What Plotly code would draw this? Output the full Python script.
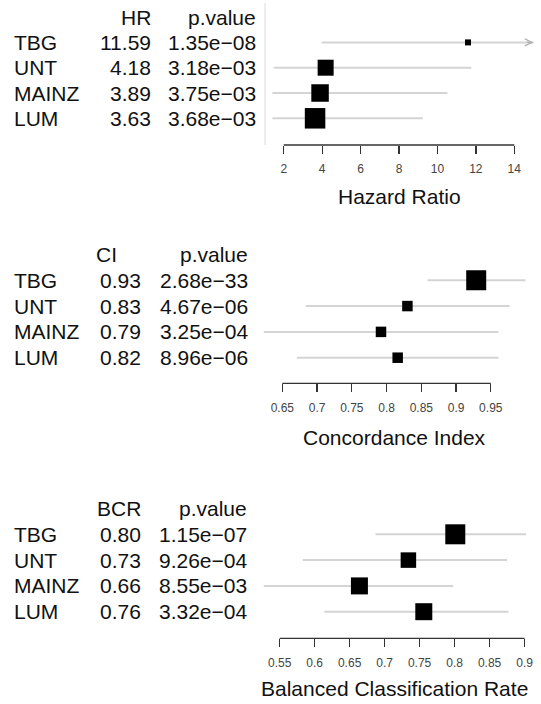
import plotly.graph_objects as go

# ---------------- data ----------------
studies = ["TBG", "UNT", "MAINZ", "LUM"]

hr_est = [11.59, 4.18, 3.89, 3.63]
hr_lower = [3.97, 1.48, 1.41, 1.41]
hr_upper = [27.0, 11.76, 10.52, 9.24]
hr_pval = ["1.35e−08", "3.18e−03", "3.75e−03", "3.68e−03"]
hr_ticks = [2, 4, 6, 8, 10, 12, 14]
hr_ticktext = ["2", "4", "6", "8", "10", "12", "14"]

ci_est = [0.929, 0.830, 0.792, 0.816]
ci_lower = [0.859, 0.684, 0.623, 0.671]
ci_upper = [1.000, 0.977, 0.961, 0.961]
ci_pval = ["2.68e−33", "4.67e−06", "3.25e−04", "8.96e−06"]
ci_ticks = [0.65, 0.70, 0.75, 0.80, 0.85, 0.90, 0.95]
ci_ticktext = ["0.65", "0.7", "0.75", "0.8", "0.85", "0.9", "0.95"]

bcr_est = [0.801, 0.734, 0.664, 0.756]
bcr_lower = [0.687, 0.583, 0.527, 0.614]
bcr_upper = [0.902, 0.875, 0.798, 0.877]
bcr_pval = ["1.15e−07", "9.26e−04", "8.55e−03", "3.32e−04"]
bcr_ticks = [0.55, 0.60, 0.65, 0.70, 0.75, 0.80, 0.85, 0.90]
bcr_ticktext = ["0.55", "0.6", "0.65", "0.7", "0.75", "0.8", "0.85", "0.9"]

# ---------------- style / layout ----------------
W, H = 541, 704
FONT = "Liberation Sans, Arial, Helvetica, sans-serif"
TXT = 21
TICKF = 12
GRAY = "#d4d4d4"
AXC = "#333333"

rows = [4, 3, 2, 1]      # TBG top ... LUM bottom
header_row = 5

panels = [
    dict(stat="HR", est=hr_est, lo=hr_lower, hi=hr_upper, pv=hr_pval, fmt="{:.2f}",
         ticks=hr_ticks, ticktext=hr_ticktext, title="Hazard Ratio",
         xpx=(268, 540.5), xrange=[1, 15], ypx=(3, 145), yrange=[-0.055, 5.557],
         c1=152.7, c2=259.3, h1=("right", 152.7), sizes=[6, 16, 17.5, 20.5],
         ref=1, title_px=197),
    dict(stat="CI", est=ci_est, lo=ci_lower, hi=ci_upper, pv=ci_pval, fmt="{:.2f}",
         ticks=ci_ticks, ticktext=ci_ticktext, title="Concordance Index",
         xpx=(267, 533), xrange=[0.623, 1.0008], ypx=(240, 383.3), yrange=[0.008, 5.56],
         c1=143.2, c2=251.2, h1=("left", 97), sizes=[20, 10.5, 10.5, 10.5],
         ref=None, title_px=437),
    dict(stat="BCR", est=bcr_est, lo=bcr_lower, hi=bcr_upper, pv=bcr_pval, fmt="{:.2f}",
         ticks=bcr_ticks, ticktext=bcr_ticktext, title="Balanced Classification Rate",
         xpx=(267, 533), xrange=[0.527, 0.9022], ypx=(490, 638.3), yrange=[-0.031, 5.717],
         c1=143.2, c2=250.2, h1=("right", 143.2), sizes=[20, 15.5, 17, 17],
         ref=None, title_px=688),
]

fig = go.Figure()
layout = dict(width=W, height=H, margin=dict(l=0, r=0, t=0, b=0),
              paper_bgcolor="white", plot_bgcolor="white", showlegend=False,
              font=dict(family=FONT, color="#111111"))
annotations = []
shapes = []


def px_x(p):
    return p / W


def px_y(p):
    return 1 - p / H


for i, pnl in enumerate(panels):
    k = "" if i == 0 else str(i + 1)
    xa, ya = "x" + k, "y" + k
    xkey, ykey = "xaxis" + k, "yaxis" + k
    layout[xkey] = dict(domain=[px_x(pnl["xpx"][0]), px_x(pnl["xpx"][1])],
                        range=pnl["xrange"], anchor=ya, showgrid=False, zeroline=False,
                        showline=False, ticks="outside", ticklen=8, tickwidth=1.3,
                        tickcolor=AXC, tickvals=pnl["ticks"], ticktext=pnl["ticktext"],
                        tickfont=dict(size=TICKF, color="#444444", family=FONT),
                        ticklabelstandoff=5, fixedrange=True)
    layout[ykey] = dict(domain=[px_y(pnl["ypx"][1]), px_y(pnl["ypx"][0])],
                        range=pnl["yrange"], anchor=xa, visible=False, fixedrange=True)

    # reference line
    if pnl["ref"] is not None:
        shapes.append(dict(type="line", xref=xa, yref=ya + " domain", x0=pnl["ref"], x1=pnl["ref"],
                           y0=0, y1=1, line=dict(color="#dadada", width=2), layer="below"))
    # axis line between first and last tick
    shapes.append(dict(type="line", xref=xa, yref=ya + " domain", x0=pnl["ticks"][0],
                       x1=pnl["ticks"][-1], y0=0, y1=0, line=dict(color=AXC, width=1.3)))

    # CI lines
    for r, lo, hi in zip(rows, pnl["lo"], pnl["hi"]):
        fig.add_trace(go.Scatter(x=[lo, hi], y=[r, r], mode="lines", xaxis=xa, yaxis=ya,
                                 line=dict(color=GRAY, width=2), hoverinfo="skip"))
        if hi > pnl["xrange"][1]:
            xmax = pnl["xrange"][1]
            span = pnl["xrange"][1] - pnl["xrange"][0]
            annotations.append(dict(x=xmax, y=r, xref=xa, yref=ya, ax=xmax - 0.03 * span, ay=r,
                                    axref=xa, ayref=ya, showarrow=True, arrowhead=5,
                                    arrowsize=1.0, arrowwidth=1.4, arrowcolor="#b0b0b0",
                                    standoff=0, text=""))
    # boxes
    fig.add_trace(go.Scatter(x=pnl["est"], y=rows, mode="markers", xaxis=xa, yaxis=ya,
                             marker=dict(symbol="square", size=pnl["sizes"], color="#000000",
                                         opacity=1, line=dict(width=0)),
                             cliponaxis=False, opacity=1, hoverinfo="skip"))

    # text table
    def txt(x, y, s, anchor):
        annotations.append(dict(x=px_x(x), y=y, xref="paper", yref=ya, text=s, showarrow=False,
                                xanchor=anchor, yanchor="middle", borderpad=0, borderwidth=0,
                                font=dict(size=TXT, color="#111111", family=FONT)))

    txt(pnl["h1"][1], header_row, pnl["stat"], pnl["h1"][0])
    txt(pnl["c2"], header_row, "p.value", "right")
    for r, name, v, p in zip(rows, studies, pnl["est"], pnl["pv"]):
        txt(14, r, name, "left")
        txt(pnl["c1"], r, pnl["fmt"].format(v), "right")
        txt(pnl["c2"], r, p, "right")

    # axis title
    annotations.append(dict(x=0.5, y=px_y(pnl["title_px"]), xref=xa + " domain", yref="paper",
                            text=pnl["title"], showarrow=False, xanchor="center",
                            yanchor="middle", font=dict(size=TXT, color="#111111", family=FONT)))

layout["annotations"] = annotations
layout["shapes"] = shapes
fig.update_layout(**layout)
fig.write_html("out.html", config={"displayModeBar": False, "staticPlot": True},
               post_script="document.body.style.margin='0';document.body.style.overflow='hidden';")
